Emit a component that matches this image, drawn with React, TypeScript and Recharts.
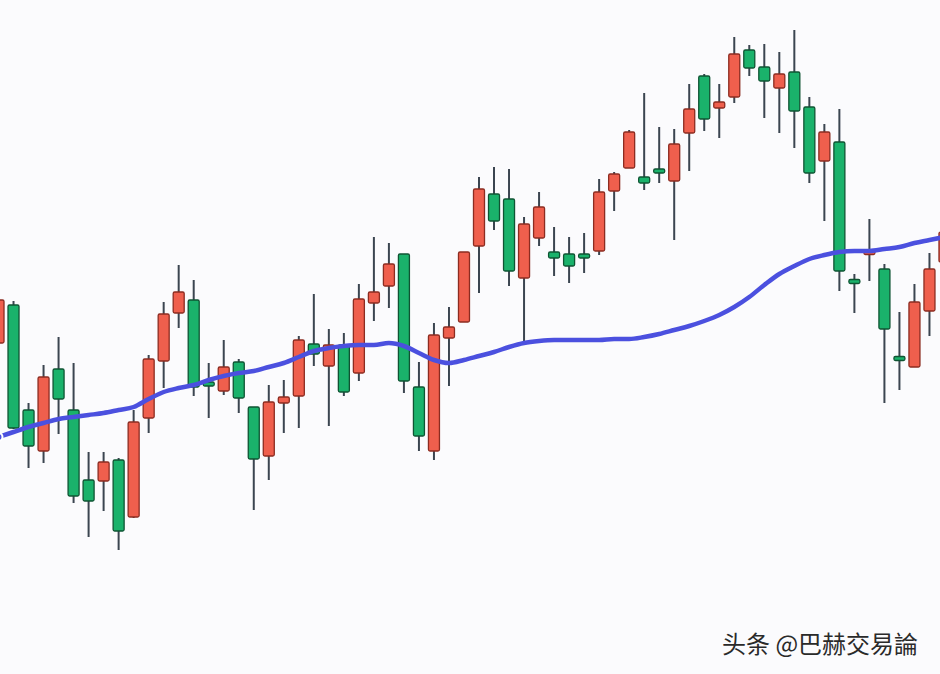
import React from 'react';
import { ComposedChart, Bar, Line, XAxis, YAxis } from 'recharts';

// one candle per session, first and last ones are cut by the frame
const opens = [
  33.1, 36.9, 26.4, 22.3, 30.5, 26.4, 19.4, 19.3, 21.4, 15.7, 25.6, 31.3, 36.1, 37.4, 29.2, 28.3,
  31.2, 26.7, 21.8, 27.1, 27.8, 33.0, 30.8, 32.9, 30.1, 37.1, 38.8, 42.0, 28.7, 22.3, 33.6, 35.2,
  42.8, 48.0, 47.5, 39.6, 43.6, 42.2, 42.0, 42.0, 42.3, 48.3, 50.6, 49.7, 50.5, 49.3, 54.1, 59.8,
  56.6, 57.7, 62.4, 60.7, 58.6, 60.2, 56.7, 51.3, 53.2, 39.4, 42.0, 40.5, 31.7, 30.7, 36.3, 41.2,
];
const closes = [
  37.4, 24.6, 22.8, 29.7, 27.5, 17.8, 17.3, 21.2, 14.3, 25.2, 31.5, 36.0, 38.2, 28.7, 28.8, 30.7,
  27.6, 21.5, 27.2, 27.7, 33.4, 32.0, 32.9, 28.2, 37.5, 38.2, 41.0, 29.3, 23.8, 33.9, 34.7, 42.2,
  48.5, 45.3, 40.3, 45.0, 46.7, 41.6, 40.8, 41.6, 48.2, 50.0, 54.2, 49.1, 50.1, 53.0, 56.5, 55.5,
  57.2, 62.0, 60.6, 59.3, 60.0, 56.3, 50.1, 54.2, 40.3, 39.1, 42.3, 34.5, 31.4, 37.2, 40.5, 44.2,
];
const highs = [
  37.6, 37.3, 27.1, 30.9, 33.7, 31.1, 22.2, 22.2, 21.6, 26.4, 31.9, 37.2, 40.9, 39.4, 31.1, 33.4,
  31.5, 26.7, 28.9, 29.4, 33.8, 38.0, 34.5, 34.1, 39.0, 43.7, 43.1, 42.0, 31.2, 35.1, 36.7, 42.2,
  49.7, 50.7, 50.5, 45.7, 48.2, 44.7, 43.7, 44.1, 49.5, 50.2, 54.4, 58.1, 54.7, 54.5, 59.0, 60.0,
  59.0, 63.7, 62.9, 63.0, 62.2, 64.4, 57.7, 55.0, 56.5, 40.0, 45.5, 41.0, 36.2, 39.0, 42.1, 44.9,
];
const lows = [
  32.9, 24.5, 20.6, 21.1, 24.0, 17.1, 13.7, 16.3, 12.4, 15.6, 24.1, 28.6, 34.6, 27.8, 25.6, 27.9,
  26.1, 16.4, 19.4, 24.1, 24.6, 30.8, 24.8, 27.8, 29.3, 35.3, 36.6, 28.1, 22.3, 21.4, 28.8, 35.2,
  38.1, 44.4, 38.8, 33.2, 42.8, 39.8, 39.1, 40.1, 41.9, 46.3, 50.6, 48.4, 49.1, 43.4, 50.3, 54.3,
  53.6, 57.1, 59.8, 55.6, 54.1, 52.6, 49.1, 45.3, 38.3, 36.1, 39.3, 27.1, 28.4, 30.7, 33.8, 40.4,
];
// moving average
const maValues = [
  23.7, 24.2, 24.7, 25.1, 25.5, 25.7, 25.9, 26.1, 26.4, 26.7, 27.5, 28.2, 28.6, 28.9, 29.4, 29.8,
  30.1, 30.3, 30.7, 31.1, 31.7, 32.3, 32.6, 32.8, 32.9, 32.9, 33.1, 32.8, 32.1, 31.4, 31.1, 31.4,
  31.8, 32.2, 32.7, 33.1, 33.3, 33.4, 33.4, 33.4, 33.4, 33.5, 33.5, 33.7, 34.0, 34.4, 34.8, 35.3,
  35.9, 36.7, 37.7, 38.9, 40.0, 40.8, 41.5, 41.9, 42.2, 42.3, 42.3, 42.5, 42.7, 43.1, 43.4, 43.7,
];
const sessions = opens.map((_, i) => `D${i + 1}`);

const data = sessions.map((day, i) => ({
  day,
  open: opens[i],
  close: closes[i],
  high: highs[i],
  low: lows[i],
  ma: maValues[i],
}));

const UP = '#ef5f4d';
const UP_EDGE = '#8c2c21';
const DOWN = '#1ab26b';
const DOWN_EDGE = '#0f5433';
const WICK = '#3b4550';

const Candle = (props: any) => {
  const { x, y, width, height, payload } = props;
  if (!payload) return null;
  const { open, close, high, low } = payload;
  const h = Math.abs(height);
  const top = Math.min(y, y + height);
  const ratio = h / (high - low || 1);
  const yOf = (v: number) => top + (high - v) * ratio;
  const cx = x + width / 2;
  const rising = close >= open;
  const bTop = yOf(Math.max(open, close));
  let bH = yOf(Math.min(open, close)) - bTop;
  let by = bTop;
  if (bH < 4) {
    by = bTop + bH / 2 - 2;
    bH = 4;
  }
  return (
    <g>
      <line x1={cx} x2={cx} y1={top} y2={top + h} stroke={WICK} strokeWidth={2} />
      <rect
        x={x}
        y={by}
        width={width}
        height={bH}
        rx={1.5}
        fill={rising ? UP : DOWN}
        stroke={rising ? UP_EDGE : DOWN_EDGE}
        strokeWidth={1.3}
      />
    </g>
  );
};

export default function App() {
  return (
    <div
      style={{
        position: 'relative',
        width: 940,
        height: 674,
        overflow: 'hidden',
        background: '#fbfbfd',
      }}
    >
      <style>{'html, body { margin: 0; padding: 0; background: #fbfbfd; }'}</style>
      <div style={{ position: 'absolute', left: -9, top: 0 }}>
        <ComposedChart
          width={961}
          height={674}
          data={data}
          margin={{ top: 0, right: 0, bottom: 0, left: 0 }}
        >
          <XAxis dataKey="day" hide />
          <YAxis hide domain={[0, 67.4]} />
          <Line
            type="monotone"
            dataKey="ma"
            stroke="#4b50df"
            strokeWidth={4.5}
            dot={false}
            isAnimationActive={false}
          />
          <Bar
            dataKey={(d: any) => [d.low, d.high]}
            barSize={11}
            shape={Candle}
            isAnimationActive={false}
          />
        </ComposedChart>
      </div>
      <div
        style={{
          position: 'absolute',
          left: 722,
          top: 625,
          fontFamily: '"Noto Sans CJK SC", sans-serif',
          fontSize: 24,
          color: '#2a2a2a',
          whiteSpace: 'nowrap',
        }}
      >
        头条 @巴赫交易論
      </div>
    </div>
  );
}
